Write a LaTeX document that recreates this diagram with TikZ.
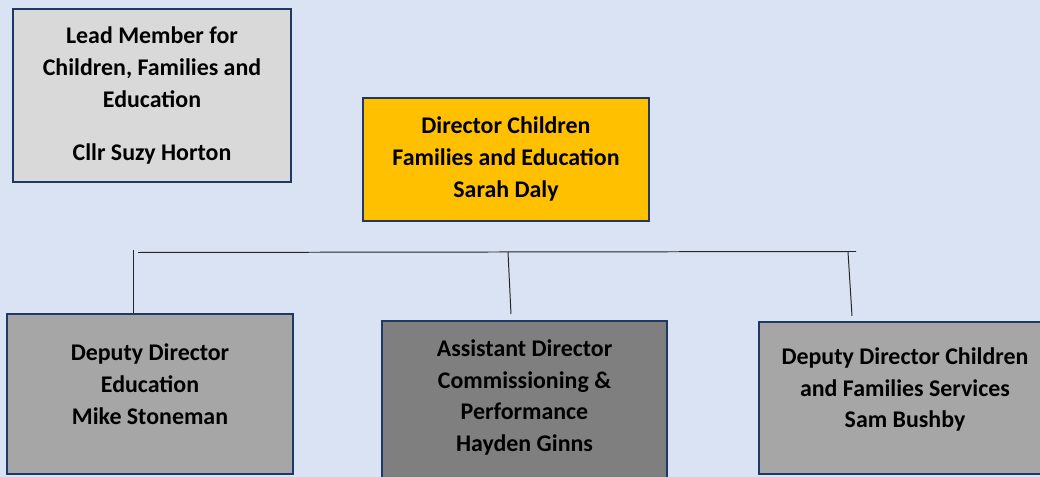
\documentclass[tikz,border=0pt]{standalone}
\usepackage{fontspec}
\setmainfont{Carlito}
\usepackage{xcolor}
\definecolor{pagebg}{HTML}{DAE3F3}
\definecolor{navy}{HTML}{1F3864}
\definecolor{lightgrey}{HTML}{D9D9D9}
\definecolor{midgrey}{HTML}{A6A6A6}
\definecolor{darkgrey}{HTML}{7F7F7F}
\definecolor{gold}{HTML}{FFC000}

\begin{document}
\begin{tikzpicture}[x=0.025cm, y=-0.025cm,
  box/.style={rectangle, draw=navy, line width=1.4pt, inner sep=0pt},
  txt/.style={align=center, font=\fontsize{17}{22.7}\selectfont\bfseries},
  link/.style={draw=black!85, line width=0.7pt}]
% Background
\fill[pagebg] (0,0) rectangle (1040,477);
\useasboundingbox (0,0) rectangle (1040,477);
% Define the boxes
\node[box, fill=lightgrey, minimum width=278*0.025cm, minimum height=173*0.025cm] at (152,95.5) (lead) {};
\node[box, fill=gold, minimum width=286*0.025cm, minimum height=123*0.025cm] at (506,159.5) (dir) {};
\node[box, fill=midgrey, minimum width=286*0.025cm, minimum height=160*0.025cm] at (150,394) (dde) {};
\node[box, fill=darkgrey, minimum width=285*0.025cm, minimum height=180*0.025cm] at (524.5,411) (adc) {};
\node[box, fill=midgrey, minimum width=292*0.025cm, minimum height=152*0.025cm] at (905,398) (ddc) {};
% Box texts
\node[txt] at (152,95.5) (leadtxt) {Lead Member for\\Children, Families and\\Education\\[15pt]Cllr Suzy Horton};
\node[txt] at (506,159) (dirtxt) {Director Children\\Families and Education\\Sarah Daly};
\node[txt] at (150,384) (ddetxt) {Deputy Director\\Education\\Mike Stoneman};
\node[txt] at (524.5,397.5) (adctxt) {Assistant Director\\Commissioning \&\\Performance\\Hayden Ginns};
\node[txt] at (905,389.5) (ddctxt) {Deputy Director Children\\and Families Services\\Sam Bushby};
% Draw the lines
\coordinate (busL) at (138,252.5);
\coordinate (busR) at (856,251.5);
\coordinate (tapA) at (133,250);
\coordinate (tapB) at (508,252);
\coordinate (tapC) at (848,252);
\draw[link] (busL) -- (busR);
\draw[link] (tapA) -- (tapA |- dde.north);
\draw[link] (tapB) -- ([xshift=3*0.025cm]tapB |- 0,314);
\draw[link] (tapC) -- ([xshift=4*0.025cm]tapC |- 0,316);
\end{tikzpicture}
\end{document}
